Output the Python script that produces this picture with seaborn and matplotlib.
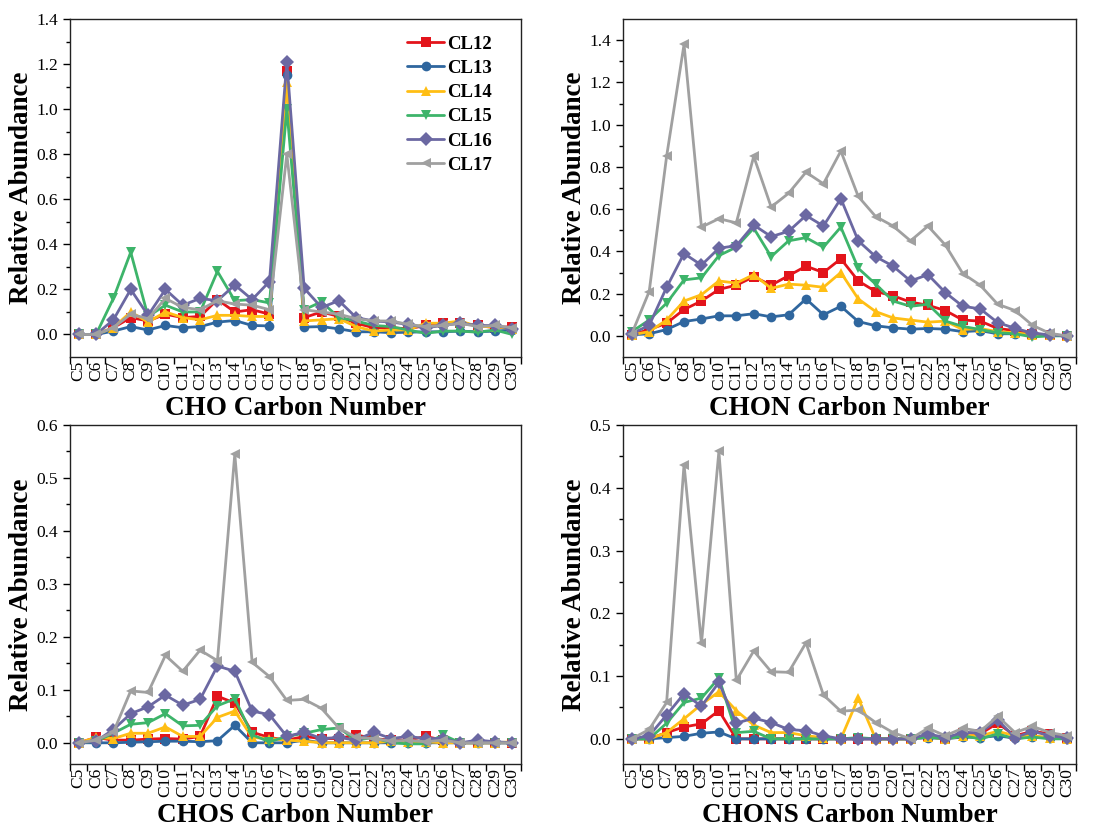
import numpy as np
import pandas as pd
import matplotlib
matplotlib.use("Agg")
import matplotlib.pyplot as plt
import seaborn as sns
from matplotlib.ticker import FormatStrFormatter, FixedLocator

sns.set_theme(style="white")
plt.rcParams['font.family'] = ['Liberation Serif', 'DejaVu Serif']
plt.rcParams['mathtext.fontset'] = 'stix'
for key in ['text.color', 'axes.labelcolor', 'xtick.color', 'ytick.color']:
    plt.rcParams[key] = 'black'

carbons = [f"C{i}" for i in range(5, 31)]
samples = ["CL12", "CL13", "CL14", "CL15", "CL16", "CL17"]

cho_cl12 = [0, 0, 0.03, 0.075, 0.06, 0.09, 0.075, 0.08, 0.155, 0.10, 0.11, 0.09, 1.17, 0.075, 0.10, 0.08, 0.05, 0.03, 0.03, 0.025, 0.04, 0.05, 0.05, 0.04, 0.03, 0.035]
cho_cl13 = [0, 0, 0.015, 0.035, 0.02, 0.04, 0.03, 0.035, 0.055, 0.062, 0.04, 0.038, 1.15, 0.033, 0.035, 0.025, 0.012, 0.012, 0.008, 0.01, 0.012, 0.012, 0.015, 0.012, 0.015, 0.02]
cho_cl14 = [0, 0, 0.03, 0.10, 0.055, 0.10, 0.075, 0.065, 0.085, 0.085, 0.08, 0.08, 1.12, 0.06, 0.065, 0.07, 0.035, 0.015, 0.02, 0.02, 0.05, 0.05, 0.06, 0.035, 0.035, 0.025]
cho_cl15 = [0, 0, 0.16, 0.365, 0.08, 0.13, 0.10, 0.10, 0.28, 0.15, 0.155, 0.14, 1.0, 0.11, 0.145, 0.075, 0.06, 0.04, 0.035, 0.02, 0.005, 0.015, 0.015, 0.01, 0.02, 0.0]
cho_cl16 = [0, 0, 0.065, 0.20, 0.085, 0.20, 0.13, 0.16, 0.15, 0.22, 0.155, 0.235, 1.21, 0.205, 0.12, 0.15, 0.075, 0.06, 0.055, 0.045, 0.03, 0.04, 0.05, 0.04, 0.04, 0.025]
cho_cl17 = [0, 0, 0.03, 0.09, 0.07, 0.16, 0.12, 0.11, 0.15, 0.135, 0.13, 0.11, 0.80, 0.11, 0.10, 0.09, 0.07, 0.06, 0.06, 0.045, 0.035, 0.04, 0.05, 0.035, 0.04, 0.03]

chon_cl12 = [0.005, 0.03, 0.06, 0.125, 0.165, 0.22, 0.24, 0.28, 0.24, 0.285, 0.33, 0.30, 0.365, 0.26, 0.21, 0.19, 0.16, 0.145, 0.12, 0.075, 0.07, 0.035, 0.025, 0.01, 0.005, 0]
chon_cl13 = [0.005, 0.01, 0.03, 0.068, 0.08, 0.095, 0.095, 0.105, 0.09, 0.10, 0.175, 0.10, 0.14, 0.068, 0.048, 0.038, 0.032, 0.035, 0.032, 0.02, 0.025, 0.01, 0.01, 0.005, 0.003, 0]
chon_cl14 = [0.005, 0.02, 0.075, 0.165, 0.195, 0.26, 0.25, 0.29, 0.225, 0.245, 0.24, 0.23, 0.30, 0.175, 0.115, 0.085, 0.075, 0.065, 0.07, 0.03, 0.035, 0.02, 0.015, 0.005, 0.005, 0]
chon_cl15 = [0.02, 0.075, 0.155, 0.265, 0.275, 0.38, 0.42, 0.51, 0.375, 0.45, 0.465, 0.42, 0.515, 0.32, 0.245, 0.165, 0.14, 0.15, 0.07, 0.045, 0.03, 0.015, 0.01, -0.005, 0.0, 0]
chon_cl16 = [0.01, 0.05, 0.23, 0.39, 0.335, 0.415, 0.427, 0.525, 0.47, 0.495, 0.57, 0.52, 0.65, 0.45, 0.375, 0.33, 0.26, 0.29, 0.205, 0.14, 0.128, 0.063, 0.036, 0.013, 0.005, 0]
chon_cl17 = [0.01, 0.21, 0.85, 1.38, 0.515, 0.555, 0.535, 0.85, 0.61, 0.675, 0.775, 0.72, 0.875, 0.66, 0.565, 0.52, 0.45, 0.52, 0.43, 0.295, 0.24, 0.15, 0.12, 0.05, 0.012, 0]

chos_cl12 = [0, 0.01, 0.005, 0.005, 0.007, 0.008, 0.007, 0.012, 0.088, 0.075, 0.02, 0.01, 0.005, 0.012, 0.008, 0.008, 0.015, 0.008, 0.005, 0.005, 0.012, 0.005, 0, 0, 0, 0]
chos_cl13 = [0, 0, 0, 0.001, 0.002, 0.003, 0.003, 0.002, 0.004, 0.033, 0.0, 0.0, 0.0, 0.005, 0.0, 0.0, 0, 0, 0, 0, 0, 0, 0, 0, 0, 0]
chos_cl14 = [0, 0.01, 0.008, 0.018, 0.018, 0.03, 0.012, 0.012, 0.048, 0.06, 0.01, 0.008, 0.005, 0.003, 0.0, 0.0, 0.0, 0.0, 0.003, 0.002, 0.002, 0.0, 0, 0, 0, 0.002]
chos_cl15 = [0, 0.003, 0.018, 0.035, 0.038, 0.055, 0.032, 0.033, 0.07, 0.083, 0.015, 0.002, 0.012, 0.018, 0.025, 0.028, 0.005, 0.01, 0.0, -0.002, -0.002, 0.015, 0.0, 0.0, 0.0, 0.0]
chos_cl16 = [0, 0.003, 0.025, 0.055, 0.068, 0.09, 0.071, 0.082, 0.145, 0.135, 0.06, 0.053, 0.012, 0.02, 0.008, 0.01, 0.005, 0.02, 0.008, 0.012, 0.008, 0.008, 0.0, 0.005, 0.002, 0.0]
chos_cl17 = [0, 0.005, 0.02, 0.098, 0.095, 0.165, 0.135, 0.175, 0.155, 0.545, 0.152, 0.125, 0.08, 0.082, 0.065, 0.028, 0.01, 0.008, 0.003, 0.005, 0.002, 0.005, 0, 0, 0, 0]

chons_cl12 = [0, 0, 0.01, 0.019, 0.024, 0.045, 0.0, 0.0, 0.0, 0.0, 0.0, 0.0, 0.0, 0.0, 0.0, 0.0, 0.0, 0.005, 0.0, 0.01, 0.008, 0.025, 0.005, 0.012, 0.008, 0.002]
chons_cl13 = [0, 0, 0.002, 0.004, 0.009, 0.011, 0, 0, 0, 0, 0, 0, 0, 0, 0, 0, 0, 0.002, 0, 0.003, 0.002, 0.005, 0.001, 0.003, 0.002, 0]
chons_cl14 = [0, 0.0, 0.01, 0.032, 0.055, 0.075, 0.045, 0.022, 0.01, 0.01, 0.005, 0.002, 0.0, 0.065, 0.0, 0, 0, 0.003, 0, 0.005, 0.005, 0.012, 0.005, 0.005, 0.002, 0]
chons_cl15 = [0, 0.0, 0.025, 0.058, 0.065, 0.097, 0.01, 0.012, 0.0, 0.0, 0.0, 0.0, 0, 0.002, 0.0, 0, 0, 0.003, 0, 0.005, 0.0, 0.008, 0, 0.003, 0, 0]
chons_cl16 = [0, 0.005, 0.038, 0.072, 0.052, 0.09, 0.025, 0.033, 0.026, 0.015, 0.013, 0.005, 0.0, 0.0, 0.0, 0.0, 0.0, 0.008, 0.002, 0.01, 0.01, 0.03, 0.002, 0.012, 0.005, 0.002]
chons_cl17 = [0, 0.015, 0.058, 0.437, 0.152, 0.458, 0.093, 0.14, 0.107, 0.106, 0.153, 0.07, 0.044, 0.046, 0.026, 0.01, 0.0, 0.017, 0.005, 0.017, 0.012, 0.036, 0.01, 0.02, 0.01, 0.005]

panels = [
    ("CHO", [cho_cl12, cho_cl13, cho_cl14, cho_cl15, cho_cl16, cho_cl17], (-0.1, 1.4), 0.2),
    ("CHON", [chon_cl12, chon_cl13, chon_cl14, chon_cl15, chon_cl16, chon_cl17], (-0.1, 1.5), 0.2),
    ("CHOS", [chos_cl12, chos_cl13, chos_cl14, chos_cl15, chos_cl16, chos_cl17], (-0.04, 0.6), 0.1),
    ("CHONS", [chons_cl12, chons_cl13, chons_cl14, chons_cl15, chons_cl16, chons_cl17], (-0.04, 0.5), 0.1),
]

colors = ["#E3141B", "#2F669E", "#FFBE14", "#3DB46A", "#6B68A2", "#A0A0A0"]
markers = ["s", "o", "^", "v", "D", "<"]
palette = dict(zip(samples, colors))
marker_map = dict(zip(samples, markers))

fig = plt.figure(figsize=(11.13, 8.27), dpi=100)
rects = [
    [0.0629, 0.5683, 0.4052, 0.4087],
    [0.5598, 0.5683, 0.4070, 0.4087],
    [0.0629, 0.0762, 0.4052, 0.4099],
    [0.5598, 0.0762, 0.4070, 0.4099],
]

for i, (name, series, ylim, step) in enumerate(panels):
    ax = fig.add_axes(rects[i])
    rows = []
    for s, vals in zip(samples, series):
        for j, v in enumerate(vals):
            rows.append({"pos": j, "value": v, "sample": s})
    df = pd.DataFrame(rows)
    sns.lineplot(data=df, x="pos", y="value", hue="sample", style="sample",
                 palette=palette, markers=marker_map, dashes=False,
                 hue_order=samples, style_order=samples,
                 linewidth=2, markersize=7, markeredgewidth=0,
                 legend=(i == 0), ax=ax, sort=False)
    ax.set_xlim(-0.5, len(carbons) - 0.5)
    ax.set_ylim(*ylim)
    ax.xaxis.set_major_locator(FixedLocator(range(len(carbons))))
    ax.set_xticklabels(carbons, rotation=90, fontsize=12.5)
    ax.xaxis.set_minor_locator(FixedLocator(np.arange(-0.5, len(carbons), 1.0)))
    ax.tick_params(axis="x", which="major", length=0, pad=3)
    ax.tick_params(axis="x", which="minor", length=5, width=1, direction="out", bottom=True)
    top = 1.4 if i < 2 else ylim[1]
    ax.yaxis.set_major_locator(FixedLocator(np.round(np.arange(0, top + 1e-9, step), 2)))
    ax.yaxis.set_minor_locator(FixedLocator(np.round(np.arange(step / 2, top, step), 3)))
    ax.yaxis.set_major_formatter(FormatStrFormatter("%.1f"))
    ax.tick_params(axis="y", which="major", length=5, width=1, direction="out", left=True, labelsize=12.5)
    ax.tick_params(axis="y", which="minor", length=3, width=1, direction="out", left=True)
    for sp in ax.spines.values():
        sp.set_color("#222222")
        sp.set_linewidth(1.0)
    ax.set_xlabel(f"{name} Carbon Number", fontsize=19.5, fontweight="bold", labelpad=4)
    ax.set_ylabel("Relative Abundance", fontsize=19.5, fontweight="bold", labelpad=2)
    if i == 0:
        handles, labels = ax.get_legend_handles_labels()
        ax.legend(handles, labels, loc="upper right", bbox_to_anchor=(0.965, 0.99),
                  frameon=False, prop={"weight": "bold", "size": 13.5},
                  handlelength=2.0, handletextpad=0.15, labelspacing=0.38,
                  borderpad=0.2)

fig.savefig("out.png", dpi=100)
